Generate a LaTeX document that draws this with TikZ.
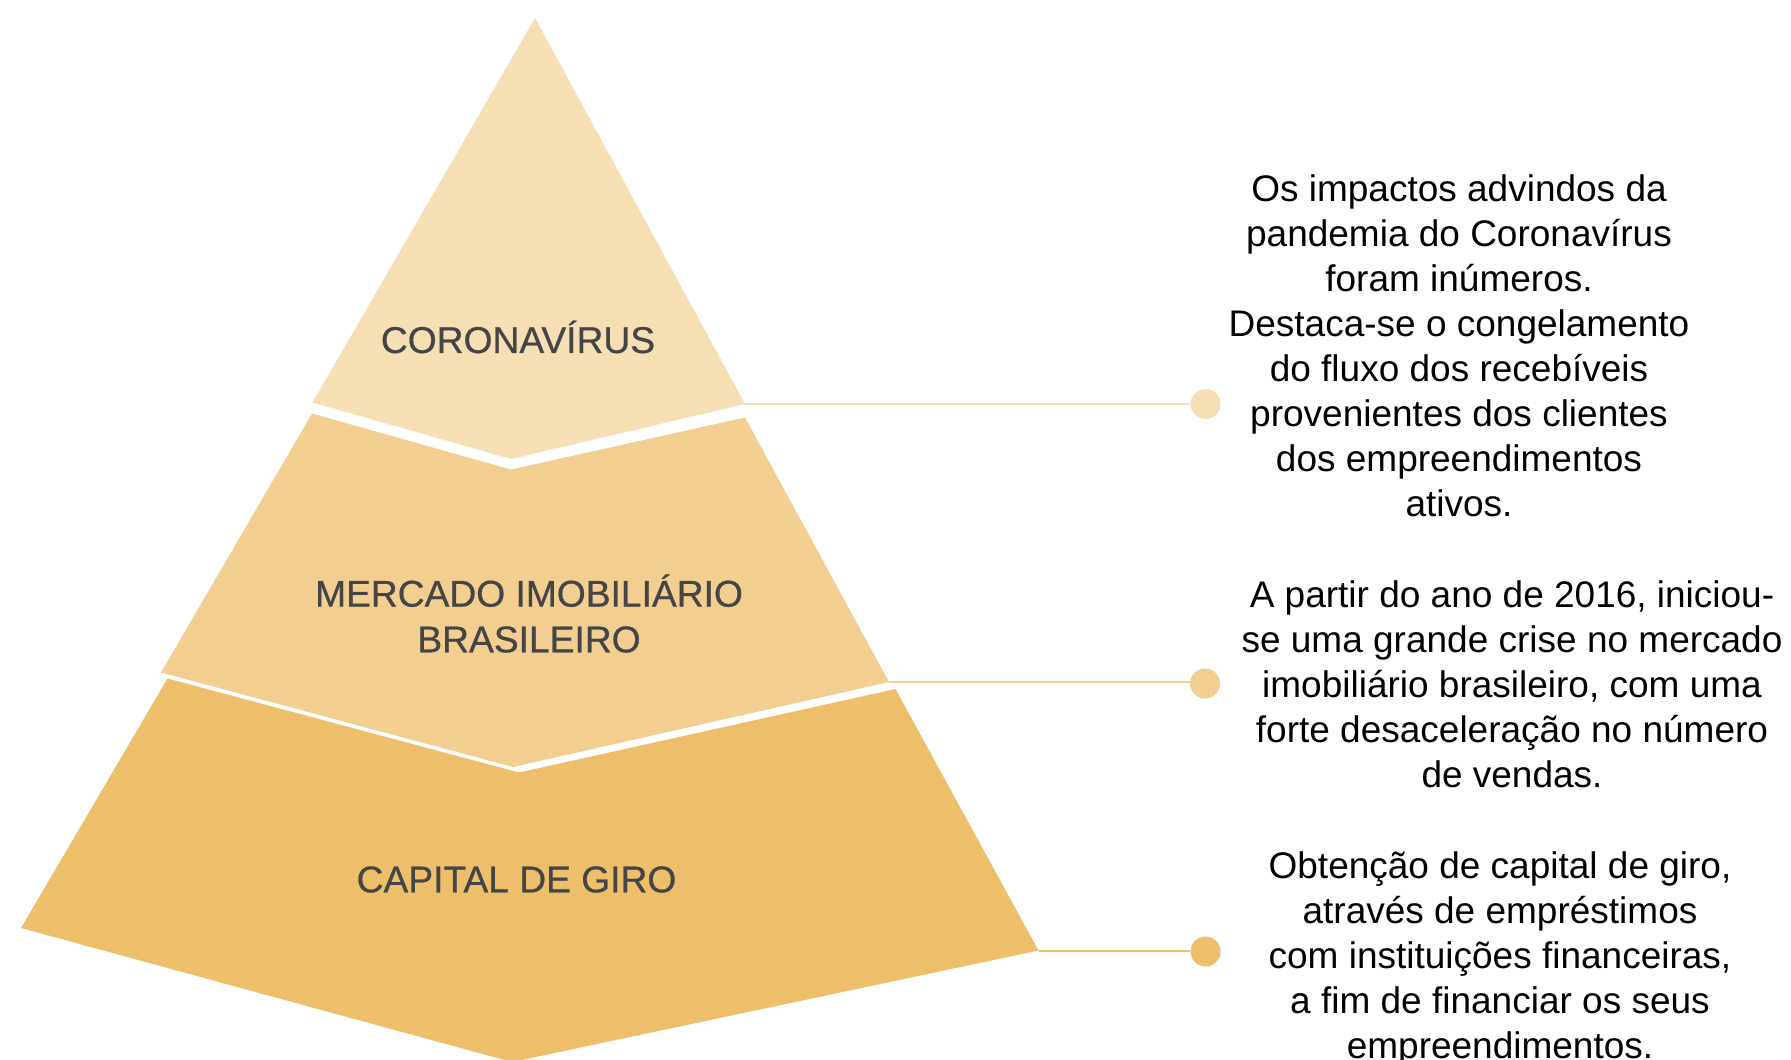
\documentclass[tikz,border=0pt]{standalone}
\usepackage{fontspec}
\setmainfont{Liberation Sans}
\newfontfamily\labfont[FakeBold=0.6]{Liberation Sans}
\definecolor{ctop}{HTML}{F6DFB4}
\definecolor{cmid}{HTML}{F2CF91}
\definecolor{cbot}{HTML}{EDBF6B}
\definecolor{labgray}{HTML}{454545}
\begin{document}
\begin{tikzpicture}[x=1pt,y=-1pt,
  piecelabel/.style={text=labgray, font=\labfont\fontsize{37.2}{45.7}\selectfont, align=center, inner sep=0pt},
  desc/.style={text=black, font=\fontsize{37}{45}\selectfont, align=center, inner sep=0pt},
  dot/.style={circle, inner sep=0pt, minimum size=30pt},
  link/.style={line width=2pt}]
\useasboundingbox (0,0) rectangle (1791,1060);
\begin{scope}
\clip (0,0) rectangle (1791,1060);
% corners
\coordinate (tA) at (535,18);
\coordinate (tL) at (312.5,402.5);
\coordinate (tV) at (511,459);
\coordinate (tR) at (745,404);
\coordinate (mL) at (312,413.5);
\coordinate (mV) at (511,469.5);
\coordinate (mR) at (745,417.5);
\coordinate (mRb) at (889,682);
\coordinate (mVb) at (513,767);
\coordinate (mLb) at (161,672.5);
\coordinate (bL) at (167.5,678.5);
\coordinate (bV) at (519,772.5);
\coordinate (bR) at (895.5,689);
\coordinate (bRb) at (1038.5,950.5);
\coordinate (bVb) at (512,1062);
\coordinate (bLb) at (21,928);
% pieces
\fill[ctop] (tA) -- (tR) -- (tV) -- (tL) -- cycle;
\fill[cmid] (mL) -- (mV) -- (mR) -- (mRb) -- (mVb) -- (mLb) -- cycle;
\fill[cbot] (bL) -- (bV) -- (bR) -- (bRb) -- (bVb) -- (bLb) -- cycle;
% labels
\node[piecelabel] (l1) at (518,337) {CORONAVÍRUS};
\node[piecelabel] (l2) at (529,613.5) {MERCADO IMOBILIÁRIO\\BRASILEIRO};
\node[piecelabel] (l3) at (516.5,879.5) {CAPITAL DE GIRO};
% dots and connectors
\node[dot, fill=ctop] (d1) at (1205.5,404) {};
\node[dot, fill=cmid] (d2) at (1205,683.5) {};
\node[dot, fill=cbot] (d3) at (1205.5,951.5) {};
\draw[link, draw=ctop] (tR) -- (tR -| d1.west);
\draw[link, draw=cmid] (mRb) -- (mRb -| d2.west);
\draw[link, draw=cbot] (bRb) -- (bRb -| d3.west);
% descriptions
\node[desc] (t1) at (1459,345.5) {Os impactos advindos da\\pandemia do Coronavírus\\foram inúmeros.\\Destaca-se o congelamento\\do fluxo dos recebíveis\\provenientes dos clientes\\dos empreendimentos\\ativos.};
\node[desc] (t2) at (1512,684) {A partir do ano de 2016, iniciou-\\se uma grande crise no mercado\\imobiliário brasileiro, com uma\\forte desaceleração no número\\de vendas.};
\node[desc] (t3) at (1500,958.5) {Obtenção de capital de giro,\\através de empréstimos\\com instituições financeiras,\\a fim de financiar os seus\\empreendimentos.};
\end{scope}
\end{tikzpicture}
\end{document}
